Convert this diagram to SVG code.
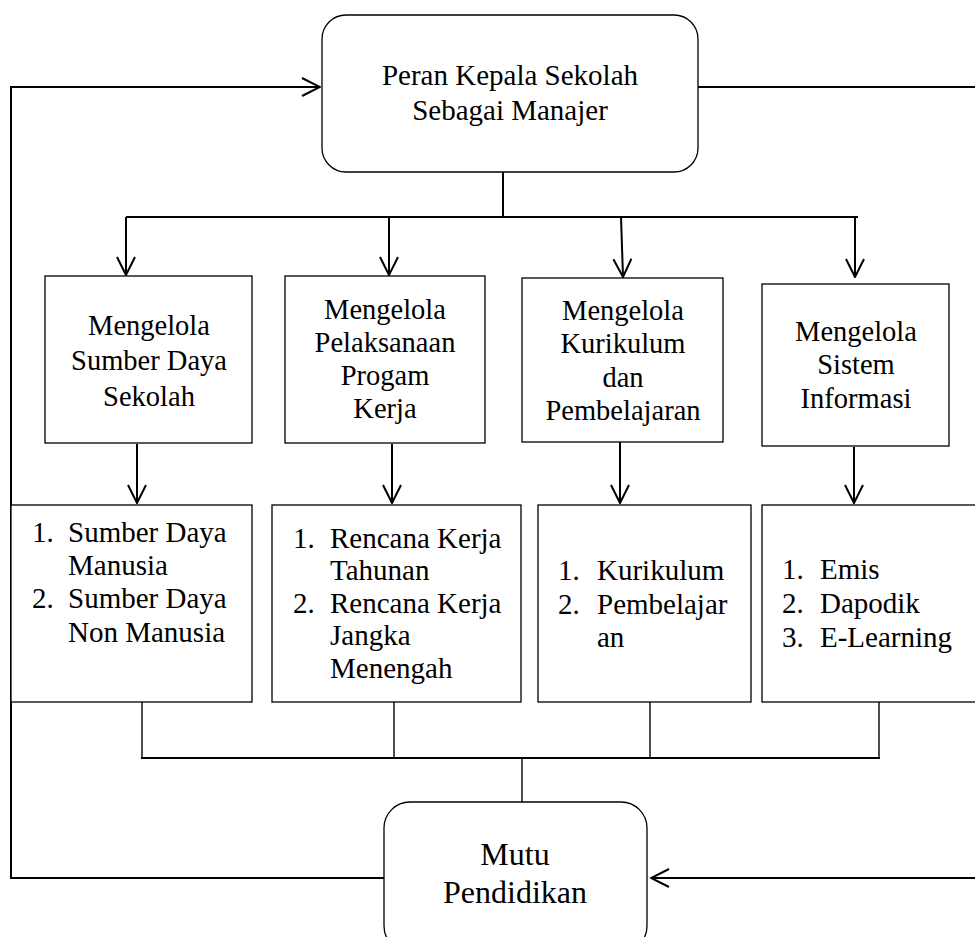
<svg xmlns="http://www.w3.org/2000/svg" width="975" height="937" viewBox="0 0 975 937">
<style>
  .box { fill: #fff; stroke: #000; stroke-width: 1.3; }
  .ln { fill: none; stroke: #000; stroke-width: 2; }
  .thin { fill: none; stroke: #000; stroke-width: 1.4; }
  text { font-family: "Liberation Serif", "Times New Roman", serif; fill: #000; }
  .c { text-anchor: middle; font-size: 28.5px; }
  .l { font-size: 29px; }
  .t { text-anchor: middle; font-size: 29px; }
  .m { text-anchor: middle; font-size: 32px; }
</style>
<defs>
  <marker id="ah" viewBox="0 0 20 20" markerWidth="20" markerHeight="20" refX="19" refY="10" orient="auto" markerUnits="userSpaceOnUse">
    <path d="M1,1 L19,10 L1,19" fill="none" stroke="#000" stroke-width="2"/>
  </marker>
</defs>

<g id="connectors">
  <!-- feedback loop left -->
  <polyline class="ln" points="384,878 11,878 11,87 320,87" marker-end="url(#ah)" stroke-width="2.5"/>
  <!-- feedback loop right -->
  <line class="ln" x1="698" y1="87" x2="980" y2="87"/>
  <line class="ln" x1="980" y1="878" x2="651" y2="878" marker-end="url(#ah)"/>
  <!-- top to middle -->
  <line class="ln" x1="503" y1="172" x2="503" y2="217"/>
  <line class="ln" x1="126" y1="217" x2="858" y2="217"/>
  <line class="ln" x1="126" y1="217" x2="126" y2="275" marker-end="url(#ah)"/>
  <line class="ln" x1="389" y1="217" x2="389" y2="275" marker-end="url(#ah)"/>
  <line class="ln" x1="621" y1="217" x2="623" y2="277" marker-end="url(#ah)"/>
  <line class="ln" x1="855" y1="217" x2="855" y2="277" marker-end="url(#ah)"/>
  <!-- middle to bottom -->
  <line class="ln" x1="137" y1="444" x2="137" y2="503" marker-end="url(#ah)"/>
  <line class="ln" x1="392" y1="444" x2="392" y2="503" marker-end="url(#ah)"/>
  <line class="ln" x1="620" y1="442" x2="620" y2="503" marker-end="url(#ah)"/>
  <line class="ln" x1="854" y1="447" x2="854" y2="503" marker-end="url(#ah)"/>
  <!-- bottom to Mutu -->
  <line class="thin" x1="142" y1="702" x2="142" y2="758"/>
  <line class="thin" x1="394" y1="702" x2="394" y2="758"/>
  <line class="thin" x1="650" y1="702" x2="650" y2="758"/>
  <line class="thin" x1="879" y1="702" x2="879" y2="758"/>
  <line class="ln" x1="141" y1="758" x2="880" y2="758"/>
  <line class="thin" x1="522" y1="758" x2="522" y2="802"/>
</g>

<g id="node-top">
  <rect class="box" x="322" y="15" width="376" height="157" rx="24" ry="24"/>
  <text class="t" x="510" y="85">Peran Kepala Sekolah</text>
  <text class="t" x="510" y="120">Sebagai Manajer</text>
</g>

<g id="node-sdm">
  <rect class="box" x="45" y="276" width="207" height="167"/>
  <text class="c" x="149" y="335">Mengelola</text>
  <text class="c" x="149" y="370">Sumber Daya</text>
  <text class="c" x="149" y="406">Sekolah</text>
</g>

<g id="node-program">
  <rect class="box" x="285" y="276" width="200" height="167"/>
  <text class="c" x="385" y="319">Mengelola</text>
  <text class="c" x="385" y="352">Pelaksanaan</text>
  <text class="c" x="385" y="385">Progam</text>
  <text class="c" x="385" y="418">Kerja</text>
</g>

<g id="node-kurikulum">
  <rect class="box" x="522" y="278" width="201" height="164"/>
  <text class="c" x="623" y="320">Mengelola</text>
  <text class="c" x="623" y="353">Kurikulum</text>
  <text class="c" x="623" y="387">dan</text>
  <text class="c" x="623" y="420">Pembelajaran</text>
</g>

<g id="node-sistem">
  <rect class="box" x="762" y="284" width="187" height="162"/>
  <text class="c" x="856" y="341">Mengelola</text>
  <text class="c" x="856" y="374">Sistem</text>
  <text class="c" x="856" y="408">Informasi</text>
</g>

<g id="list-sdm">
  <rect class="box" x="11" y="505" width="241" height="197"/>
  <text class="l" x="32" y="542">1.</text>
  <text class="l" x="68" y="542">Sumber Daya</text>
  <text class="l" x="68" y="575">Manusia</text>
  <text class="l" x="32" y="608">2.</text>
  <text class="l" x="68" y="608">Sumber Daya</text>
  <text class="l" x="68" y="642">Non Manusia</text>
</g>

<g id="list-program">
  <rect class="box" x="272" y="505" width="249" height="197"/>
  <text class="l" x="293" y="548">1.</text>
  <text class="l" x="330" y="548">Rencana Kerja</text>
  <text class="l" x="330" y="580">Tahunan</text>
  <text class="l" x="293" y="613">2.</text>
  <text class="l" x="330" y="613">Rencana Kerja</text>
  <text class="l" x="330" y="645">Jangka</text>
  <text class="l" x="330" y="678">Menengah</text>
</g>

<g id="list-kurikulum">
  <rect class="box" x="538" y="505" width="213" height="197"/>
  <text class="l" x="558" y="580">1.</text>
  <text class="l" x="597" y="580">Kurikulum</text>
  <text class="l" x="558" y="614">2.</text>
  <text class="l" x="597" y="614">Pembelajar</text>
  <text class="l" x="597" y="647">an</text>
</g>

<g id="list-sistem">
  <rect class="box" x="762" y="505" width="220" height="197"/>
  <text class="l" x="782" y="579">1.</text>
  <text class="l" x="820" y="579">Emis</text>
  <text class="l" x="782" y="613">2.</text>
  <text class="l" x="820" y="613">Dapodik</text>
  <text class="l" x="782" y="647">3.</text>
  <text class="l" x="820" y="647">E-Learning</text>
</g>

<g id="node-mutu">
  <rect class="box" x="384" y="802" width="263" height="150" rx="26" ry="26"/>
  <text class="m" x="515" y="865">Mutu</text>
  <text class="m" x="515" y="903">Pendidikan</text>
</g>
</svg>
